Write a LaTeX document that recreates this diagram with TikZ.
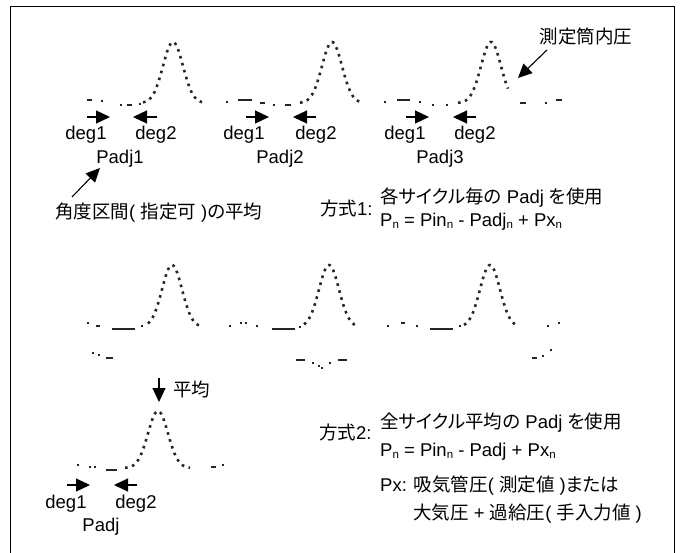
\documentclass[tikz,border=0pt]{standalone}
\usepackage{fontspec}
\setmainfont{Liberation Sans}
\newfontfamily\cjk[RawFeature=+palt]{Noto Sans CJK JP}
\usetikzlibrary{arrows.meta}
\newcommand\J[1]{{\cjk #1}}
\newcommand\sn{\raisebox{-1.5pt}{\fontsize{11.5}{11.5}\selectfont n}}
\newcommand\gc[5]{\draw[dl] plot[domain=#4:#5, samples=60, smooth] (\x,{#2-#3*exp(-(((\x-#1)^2)/200))});}
\begin{document}
\begin{tikzpicture}[x=1pt,y=-1pt,
  txt/.style={inner sep=0pt, font=\fontsize{18.5}{22}\selectfont, text height=17pt, text depth=4pt},
  dl/.style={line width=2.6pt, black!85, dash pattern=on 2.6pt off 4.6pt},
  pc/.style={line width=2.6pt, black!85},
  arr/.style={line width=1.1pt, -{Triangle[length=14pt,width=13pt]}}]
\useasboundingbox (0,0) rectangle (680,552);
\draw[line width=1.5pt] (10.5,553)--(10.5,6.5)--(674.5,6.5)--(674.5,553);

% ---------- top row curves ----------
% curve 1
\draw[pc] (87,100)--(92,100) (101,101)--(103,101) (120,105)--(122,105) (127,105)--(132,105) (139,104)--(141,104);
\gc{173}{103}{61}{143}{205}
% curve 2
\draw[pc] (226,102)--(228,102) (238,100)--(252,100) (260,103)--(265,103) (273,105)--(275,105) (285,105)--(291,105);
\gc{332}{103}{61}{300}{363}
% curve 3
\draw[pc] (384,102)--(386,102) (397,100)--(410,100) (419,102)--(421,102) (432,105)--(434,105) (446,105)--(448,105);
\gc{491}{103}{61}{458}{508}
\draw[pc] (520,103)--(526,103) (545,103)--(547,103) (556,100)--(562,100);

% ---------- bottom row curves ----------
\draw[pc] (87,323)--(89,323) (96,326)--(100,326) (112,329)--(135,329) (141,326)--(143,326);
\gc{172}{327}{62}{148}{203}
\draw[pc] (229,326)--(231,326) (240,323)--(242,323) (245,323)--(247,323) (256,326)--(258,326) (272,329)--(295,329) (299,327)--(301,327);
\gc{329}{327}{62}{304}{358}
\draw[pc] (387,326)--(389,326) (401,323)--(405,323) (416,326)--(418,326) (430,329)--(453,329) (459,326)--(461,326);
\gc{490}{327}{62}{464}{518}
\draw[pc] (547,326)--(549,326) (558,323)--(560,323);
% lower pieces
\draw[pc] (92,353)--(94,353) (98,355)--(100,355) (106,358)--(113,358);
\draw[pc] (296,360)--(305,360) (312,363)--(314,363) (318,366)--(320,366) (321,368)--(323,368) (329,363)--(331,363) (338,360)--(347,360);
\draw[pc] (532,358)--(537,358) (542,356)--(544,356) (550,350)--(552,350);

% ---------- averaged curve ----------
\draw[pc] (77,465)--(79,465) (89,467)--(91,467) (94,467)--(96,467) (106,470)--(117,470);
\gc{158}{468}{57}{125}{190}
\draw[pc] (211,467)--(216,467) (222,465)--(224,465);

% ---------- labels ----------
\node[txt] (d11) at (86,132.5) {deg1};
\node[txt] (d12) at (156,132.5) {deg2};
\node[txt] (p1) at (120,157) {Padj1};
\node[txt] (d21) at (244,132.5) {deg1};
\node[txt] (d22) at (316,132.5) {deg2};
\node[txt] (p2) at (280,157) {Padj2};
\node[txt] (d31) at (405,132.5) {deg1};
\node[txt] (d32) at (475,132.5) {deg2};
\node[txt] (p3) at (440,157) {Padj3};
\node[txt] (meas) at (586,37) {\J{測定筒内圧}};
\node[txt,anchor=west] (avgsec) at (55,212) {\J{角度区間}( \J{指定可} )\J{の平均}};
\node[txt,anchor=west] (m1) at (320,209) {\J{方式}1:};
\node[txt,anchor=west] (m1a) at (380,197) {\J{各サイクル毎の} Padj \J{を使用}};
\node[txt,anchor=west] (m1b) at (380,220) {P\sn{} = Pin\sn{} - Padj\sn{} + Px\sn};
\node[txt,anchor=west] (avg) at (173,390) {\J{平均}};
\node[txt] (d41) at (66,501.5) {deg1};
\node[txt] (d42) at (136,501.5) {deg2};
\node[txt] (p4) at (101,525) {Padj};
\node[txt,anchor=west] (m2) at (319,433) {\J{方式}2:};
\node[txt,anchor=west] (m2a) at (380,422) {\J{全サイクル平均の} Padj \J{を使用}};
\node[txt,anchor=west] (m2b) at (380,450) {P\sn{} = Pin\sn{} - Padj + Px\sn};
\node[txt,anchor=west] (px1) at (380,485) {Px: \J{吸気管圧}( \J{測定値} )\J{または}};
\node[txt,anchor=west] (px2) at (413,513) {\J{大気圧} + \J{過給圧}( \J{手入力値} )};

% ---------- arrows ----------
\coordinate (a11s) at (87,117);  \coordinate (a11e) at (110,117);
\coordinate (a12s) at (157,117); \coordinate (a12e) at (133,117);
\coordinate (a21s) at (246,117); \coordinate (a21e) at (269,117);
\coordinate (a22s) at (316,117); \coordinate (a22e) at (293,117);
\coordinate (a31s) at (406,117); \coordinate (a31e) at (429,117);
\coordinate (a32s) at (476,117); \coordinate (a32e) at (453,117);
\coordinate (a41s) at (67,485);  \coordinate (a41e) at (90,485);
\coordinate (a42s) at (137,485); \coordinate (a42e) at (114,485);
\foreach \a in {11,12,21,22,31,32,41,42} \draw[arr] (a\a s)--(a\a e);
\coordinate (dn) at (159,402);
\coordinate (dns) at (159,378);
\draw[arr] (dns)--(dn);
\coordinate (ptip) at (100,168);
\coordinate (ps) at (72,197);
\draw[arr] (ps)--(ptip);
\coordinate (mtip) at (518,78);
\coordinate (ms) at (547,50);
\draw[arr] (ms)--(mtip);
\end{tikzpicture}
\end{document}
